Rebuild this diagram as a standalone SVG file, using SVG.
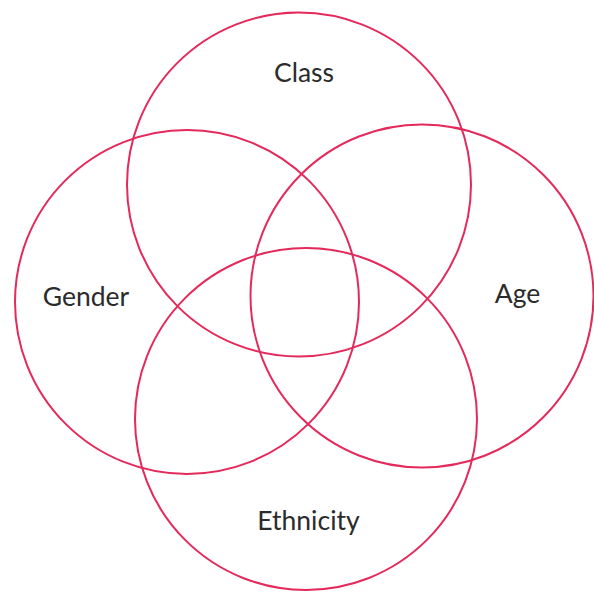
<svg xmlns="http://www.w3.org/2000/svg" width="594" height="592" viewBox="0 0 594 592">
<style>
.c{fill:none;stroke:#e4295b;stroke-width:2}
.t{font-family:Lato,"Open Sans","Liberation Sans",sans-serif;font-size:26.5px;fill:#2b2b2b;text-anchor:middle}
</style>
<rect width="594" height="592" fill="#ffffff"/>
<g id="class"><circle class="c" cx="299" cy="184.5" r="172"/><text class="t" x="304" y="82">Class</text></g>
<g id="gender"><circle class="c" cx="187" cy="302" r="172"/><text class="t" x="86" y="306">Gender</text></g>
<g id="age"><circle class="c" cx="422" cy="296" r="171.5"/><text class="t" x="517.5" y="303">Age</text></g>
<g id="ethnicity"><circle class="c" cx="306" cy="419" r="171"/><text class="t" x="308.5" y="530">Ethnicity</text></g>
<g id="connectors"/>
</svg>
